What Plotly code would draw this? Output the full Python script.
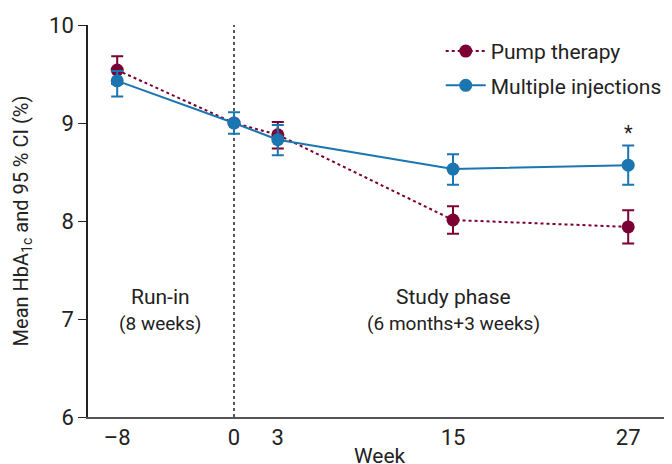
import plotly.graph_objects as go

weeks = [-8, 0, 3, 15, 27]
pump_mean = [9.54, 9.00, 8.88, 8.01, 7.94]
pump_upper = [9.68, 9.00, 9.01, 8.15, 8.11]
pump_lower = [9.40, 9.00, 8.74, 7.87, 7.77]
mdi_mean = [9.43, 9.00, 8.83, 8.53, 8.57]
mdi_upper = [9.53, 9.11, 8.98, 8.68, 8.77]
mdi_lower = [9.27, 8.89, 8.67, 8.37, 8.37]
x_ticks = [-8, 0, 3, 15, 27]
x_labels = ["–8", "0", "3", "15", "27"]
y_ticks = [6, 7, 8, 9, 10]

PUMP = "#7b0033"
MDI = "#1b75b0"
FONT = "Roboto"
TXT = "#222222"

def errs(mean, up, lo):
    return [u - m for u, m in zip(up, mean)], [m - l for m, l in zip(mean, lo)]

pu, pl = errs(pump_mean, pump_upper, pump_lower)
mu, ml = errs(mdi_mean, mdi_upper, mdi_lower)

fig = go.Figure()
fig.add_trace(go.Scatter(
    x=weeks, y=pump_mean, name="Pump therapy", mode="lines+markers",
    legendgroup="pump",
    line=dict(color=PUMP, width=2, dash="dot"),
    marker=dict(color=PUMP, size=13),
    error_y=dict(type="data", symmetric=False, array=pu, arrayminus=pl,
                 color=PUMP, thickness=2, width=6),
))
fig.add_trace(go.Scatter(
    x=weeks, y=mdi_mean, name="Multiple injections", mode="lines+markers",
    legendgroup="mdi",
    line=dict(color=MDI, width=2),
    marker=dict(color=MDI, size=13),
    error_y=dict(type="data", symmetric=False, array=mu, arrayminus=ml,
                 color=MDI, thickness=2, width=6),
))

fig.add_shape(type="line", x0=0, x1=0, y0=6, y1=10, xref="x", yref="y",
              line=dict(color=TXT, width=1.5, dash="dot"), layer="below")

fig.add_annotation(x=27, y=mdi_upper[4], yshift=13, text="*", showarrow=False,
                   font=dict(size=20, color=TXT, family=FONT))
fig.add_annotation(x=-5.05, y=7.22, text="Run-in", showarrow=False,
                   font=dict(size=21, color=TXT, family=FONT))
fig.add_annotation(x=-5.05, y=6.95, text="(8 weeks)", showarrow=False,
                   font=dict(size=19, color=TXT, family=FONT))
fig.add_annotation(x=15, y=7.22, text="Study phase", showarrow=False,
                   font=dict(size=21, color=TXT, family=FONT))
fig.add_annotation(x=15, y=6.95, text="(6 months+3 weeks)", showarrow=False,
                   font=dict(size=19, color=TXT, family=FONT))
# x-axis title
fig.add_annotation(x=0.5, xref="paper", y=0, yref="paper", yshift=-25,
                   yanchor="top", text="Week", showarrow=False,
                   font=dict(size=21, color=TXT, family=FONT))

# The page body adds an 8px offset; size and margins compensate for it.
fig.update_layout(
    width=664, height=456,
    margin=dict(l=80, r=0, t=17, b=47, autoexpand=False),
    paper_bgcolor="white", plot_bgcolor="white",
    font=dict(family=FONT, size=22, color=TXT),
    showlegend=True,
    legend=dict(x=0.604, y=0.985, xanchor="left", yanchor="top",
                font=dict(size=21, color=TXT), bgcolor="rgba(0,0,0,0)",
                itemwidth=40, tracegroupgap=4),
    xaxis=dict(range=[-10, 30], tickvals=x_ticks, ticktext=x_labels,
               showgrid=False, zeroline=False, showline=True, linecolor="#555555",
               linewidth=1.5, ticks="", automargin=False),
    yaxis=dict(range=[6, 10], tickvals=y_ticks, showgrid=False, zeroline=False,
               showline=True, linecolor=TXT, linewidth=1.5, ticks="outside",
               ticklen=8, tickcolor=TXT, automargin=False,
               title=dict(text="Mean HbA<sub>1c</sub> and 95 % CI (%)", standoff=15,
                          font=dict(size=20))),
)

fig.write_html("out.html")
